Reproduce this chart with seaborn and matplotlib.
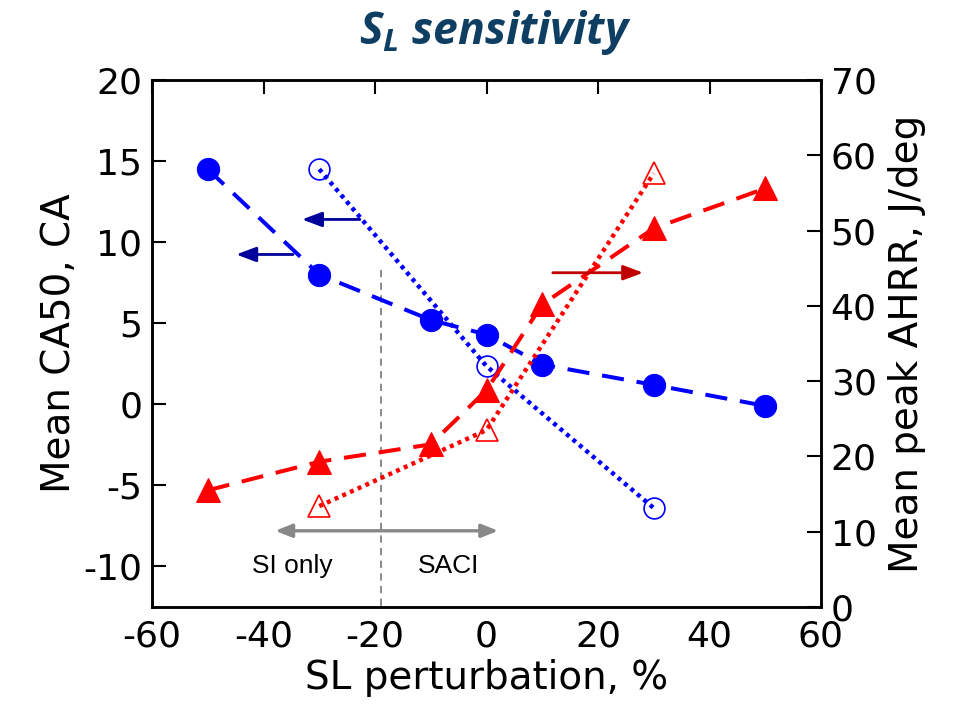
import numpy as np
import pandas as pd
import matplotlib
matplotlib.use("Agg")
import matplotlib.pyplot as plt
import seaborn as sns

# ---- data ----
x_all = [-50, -30, -10, 0, 10, 30, 50]
ca50_filled = [14.5, 8.0, 5.2, 4.3, 2.45, 1.2, -0.1]
ahrr_filled = [15.5, 19.3, 21.6, 28.8, 40.2, 50.3, 55.6]
x_open = [-30, 0, 30]
ca50_open = [14.5, 2.35, -6.4]
ahrr_open = [13.4, 23.5, 57.6]

x_ticks = [-60, -40, -20, 0, 20, 40, 60]
yl_ticks = [-10, -5, 0, 5, 10, 15, 20]
yr_ticks = [0, 10, 20, 30, 40, 50, 60, 70]

title_main = "sensitivity"
xlabel = "SL perturbation, %"
ylabel_left = "Mean CA50, CA"
ylabel_right = "Mean peak AHRR, J/deg"
region_left = "SI only"
region_right = "SACI"

sns.set_style("white")
plt.rcParams['font.family'] = ['DejaVu Sans']
plt.rcParams['text.color'] = 'black'
plt.rcParams['axes.labelcolor'] = 'black'
plt.rcParams['xtick.color'] = 'black'
plt.rcParams['ytick.color'] = 'black'
plt.rcParams['mathtext.fontset'] = 'custom'
plt.rcParams['mathtext.it'] = 'Open Sans:bold:italic'
plt.rcParams['mathtext.rm'] = 'Open Sans:bold:italic'

fig = plt.figure(figsize=(9.63, 7.18), dpi=100)
ax = fig.add_axes([152/963, 1-607/718, (821-152)/963, (607-80)/718])
ax2 = ax.twinx()

blue = "#0000FF"
red = "#FF0000"

dash = (5.5, 3.2)
dot = (0.9, 1.0)

df_f = pd.DataFrame({"x": x_all, "ca50": ca50_filled, "ahrr": ahrr_filled})
df_o = pd.DataFrame({"x": x_open, "ca50": ca50_open, "ahrr": ahrr_open})

sns.lineplot(data=df_f, x="x", y="ca50", ax=ax, color=blue, lw=2.9, sort=False,
             linestyle=(0, dash), marker="o", markersize=16,
             markeredgecolor=blue, markerfacecolor=blue, zorder=3)
sns.lineplot(data=df_o, x="x", y="ca50", ax=ax, color=blue, lw=3.2, sort=False,
             linestyle=(0, dot), marker="o", markersize=15,
             markeredgecolor=blue, markerfacecolor="none", markeredgewidth=1.2, zorder=3)
sns.lineplot(data=df_f, x="x", y="ahrr", ax=ax2, color=red, lw=2.9, sort=False,
             linestyle=(0, dash), marker="^", markersize=17,
             markeredgecolor=red, markerfacecolor=red, zorder=3)
sns.lineplot(data=df_o, x="x", y="ahrr", ax=ax2, color=red, lw=3.2, sort=False,
             linestyle=(0, dot), marker="^", markersize=16,
             markeredgecolor=red, markerfacecolor="none", markeredgewidth=1.2, zorder=3)

ax.set_xlim(-60, 60)
ax.set_ylim(-12.5, 20)
ax2.set_ylim(0, 70)
ax.set_xticks(x_ticks)
ax.set_yticks(yl_ticks)
ax2.set_yticks(yr_ticks)
ax.set_xticklabels([str(t) for t in x_ticks])
ax.set_yticklabels([str(t) for t in yl_ticks])
ax2.set_yticklabels([str(t) for t in yr_ticks])

ax.tick_params(axis="x", direction="in", length=10, width=1.5, labelsize=26, top=True, pad=9)
ax.tick_params(axis="y", direction="in", length=10, width=1.5, labelsize=26, left=True, right=False, pad=7)
ax2.tick_params(axis="y", direction="in", length=10, width=1.5, labelsize=26, right=True, pad=7)
for a in (ax, ax2):
    for s in a.spines.values():
        s.set_linewidth(1.8)
        s.set_color("black")

ax.set_xlabel(xlabel, fontsize=28, labelpad=4)
ax.set_ylabel(ylabel_left, fontsize=28, labelpad=4)
ax2.set_ylabel(ylabel_right, fontsize=28, labelpad=8)

# annotations
ax.plot([-19, -19], [8.3, -12.5], ls=(0, (4, 3)), color="#808080", lw=1.3, zorder=1)
arrow_style = "-|>,head_length=1.2,head_width=0.45"
ax.annotate("", xy=(-33.1, 11.4), xytext=(-22.7, 11.4),
            arrowprops=dict(arrowstyle=arrow_style, color="#00009A", lw=2, shrinkA=0, shrinkB=0))
ax.annotate("", xy=(-44.9, 9.24), xytext=(-34.7, 9.24),
            arrowprops=dict(arrowstyle=arrow_style, color="#00009A", lw=2, shrinkA=0, shrinkB=0))
ax2.annotate("", xy=(28.1, 44.4), xytext=(11.9, 44.4),
             arrowprops=dict(arrowstyle=arrow_style, color="#C00000", lw=2, shrinkA=0, shrinkB=0))
ax.annotate("", xy=(-37.9, -7.8), xytext=(2.1, -7.8),
            arrowprops=dict(arrowstyle="<|-|>,head_length=1.0,head_width=0.4", color="#888888",
                            lw=2.4, shrinkA=0, shrinkB=0))
ax.text(-34.9, -10.0, region_left, fontsize=19, family="Liberation Sans", ha="center", va="center")
ax.text(-6.9, -10.0, region_right, fontsize=19, family="Liberation Sans", ha="center", va="center")

fig.text(0.514, 0.955, r"$S_L$ " + title_main, fontsize=32, family="Open Sans",
         weight="bold", style="italic", color="#0E3F63", ha="center", va="center")

fig.savefig("out.png", dpi=100)
